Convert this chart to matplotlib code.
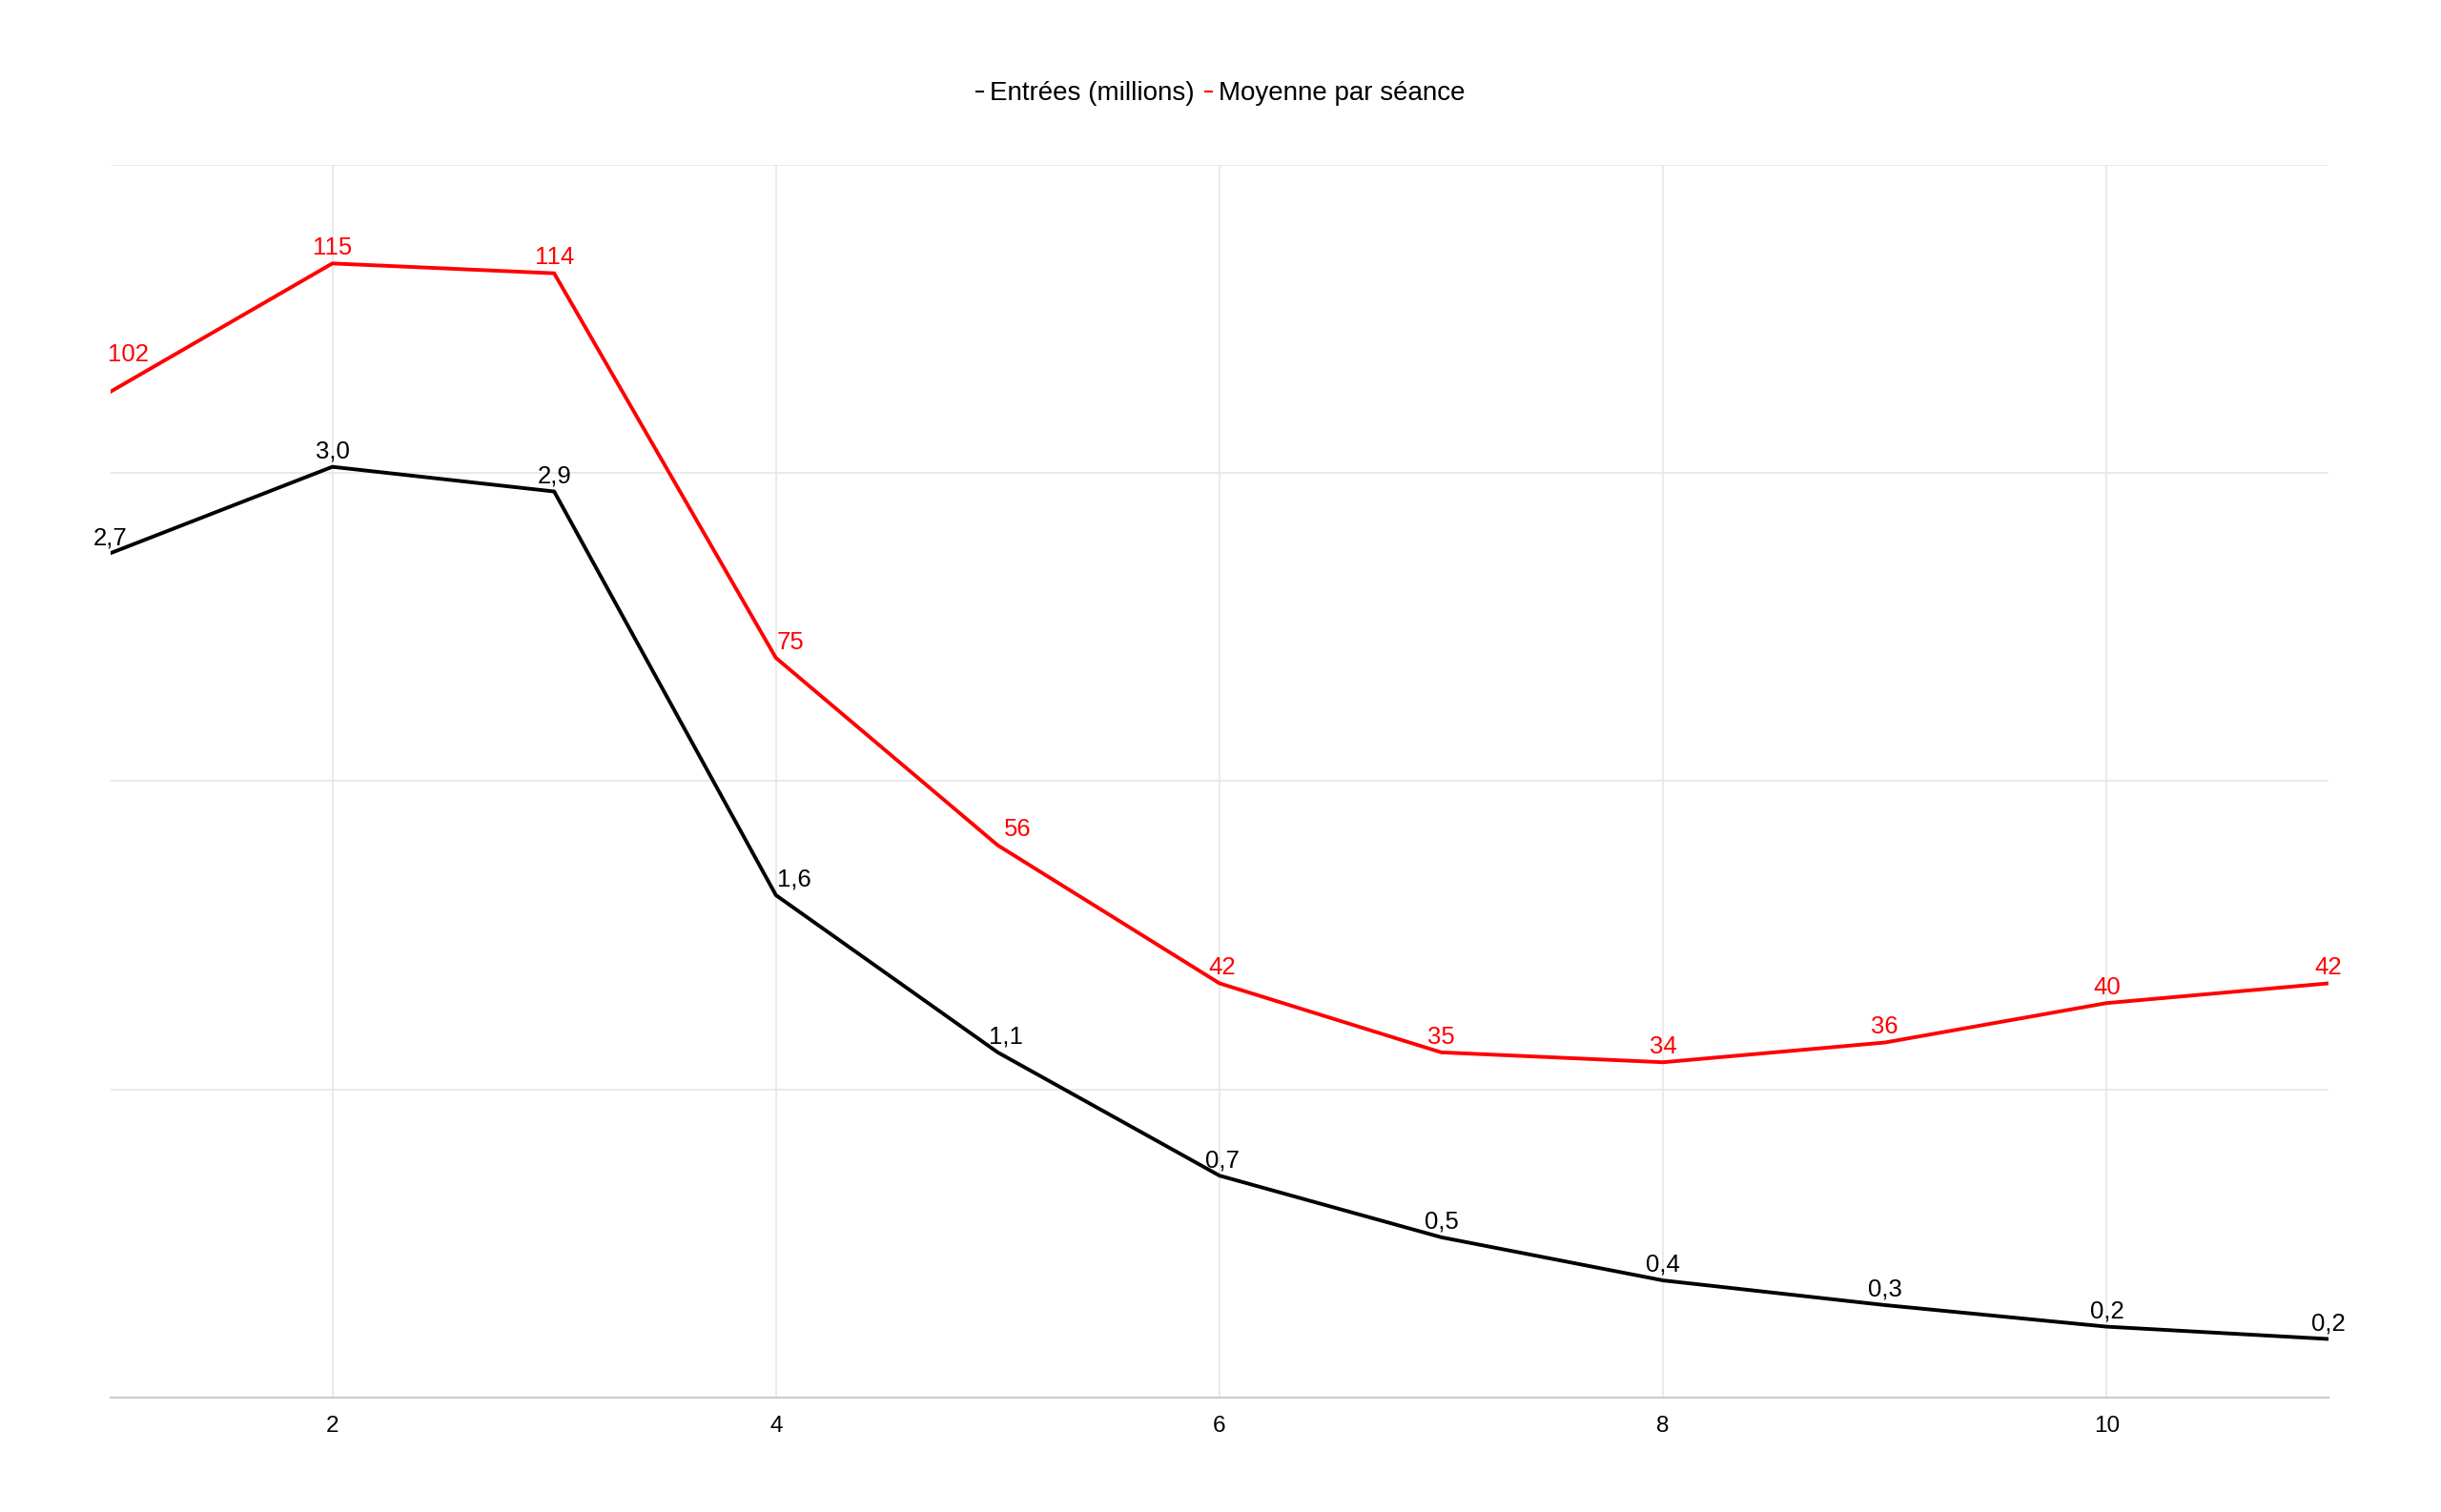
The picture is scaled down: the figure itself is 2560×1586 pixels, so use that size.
import matplotlib
matplotlib.use("Agg")
import matplotlib.pyplot as plt
from matplotlib.lines import Line2D

plt.rcParams['font.family'] = ['Liberation Sans', 'DejaVu Sans']

x = [1, 2, 3, 4, 5, 6, 7, 8, 9, 10, 11]
entrees = [2.74, 3.02, 2.94, 1.63, 1.12, 0.72, 0.52, 0.38, 0.30, 0.23, 0.19]
moyenne = [102, 115, 114, 75, 56, 42, 35, 34, 36, 40, 42]
xticks = [2, 4, 6, 8, 10]
label_entrees = "Entrées (millions)"
label_moyenne = "Moyenne par séance"

# label nudges (points) to keep value labels off the lines
nudge_entrees = [(0, 3), (0, 3), (0, 3), (14, 3), (6, 3), (2, 3), (0, 3), (0, 3), (0, 3), (0, 3), (0, 3)]
nudge_moyenne = [(13, 19), (0, 3), (0, 3), (11, 3), (15, 3), (2, 3), (0, 3), (0, 3), (0, 3), (0, 3), (0, 3)]

fig = plt.figure(figsize=(25.6, 15.86), dpi=100)
ax = fig.add_axes([0.0453, 0.0757, 0.9086, 0.8153])
ax2 = ax.twinx()

ax.plot(x, entrees, color='black', lw=2.8, solid_joinstyle='miter', zorder=3)
ax2.plot(x, moyenne, color='#ff0000', lw=2.8, solid_joinstyle='miter', zorder=3)

for xi, v, off in zip(x, entrees, nudge_entrees):
    ax.annotate(f"{v:.1f}".replace('.', ','), (xi, v), xytext=off, textcoords='offset points',
                ha='center', va='bottom', fontsize=18.5, color='black', annotation_clip=False)
for xi, v, off in zip(x, moyenne, nudge_moyenne):
    ax2.annotate(f"{v}", (xi, v), xytext=off, textcoords='offset points',
                 ha='center', va='bottom', fontsize=18.5, color='#ff0000', annotation_clip=False)

ax.set_xlim(1, 11)
ax.set_ylim(0, 4)
ax2.set_ylim(0, 125)
ax.set_xticks(xticks)
ax.set_yticks([0, 1, 2, 3, 4])
ax.set_yticklabels([])
ax2.set_yticks([])
ax.tick_params(axis='x', length=0, labelsize=17.5, pad=14)
ax.tick_params(axis='y', length=0)
ax.grid(True, color='#e6e6e6', lw=1.2)
ax.set_axisbelow(True)
for s in ['top', 'right', 'left']:
    ax.spines[s].set_visible(False)
    ax2.spines[s].set_visible(False)
ax2.spines['bottom'].set_visible(False)
ax.spines['bottom'].set_color('#cccccc')
ax.spines['bottom'].set_linewidth(1.6)

handles = [Line2D([0], [0], color='black', lw=1.5), Line2D([0], [0], color='#ff0000', lw=1.5)]
fig.legend(handles, [label_entrees, label_moyenne], loc='center', bbox_to_anchor=(0.5, 0.938),
           ncol=2, frameon=False, fontsize=20, handlelength=0.25, handletextpad=0.25,
           columnspacing=0.4)

fig.savefig("out.png", dpi=100, facecolor='white')
